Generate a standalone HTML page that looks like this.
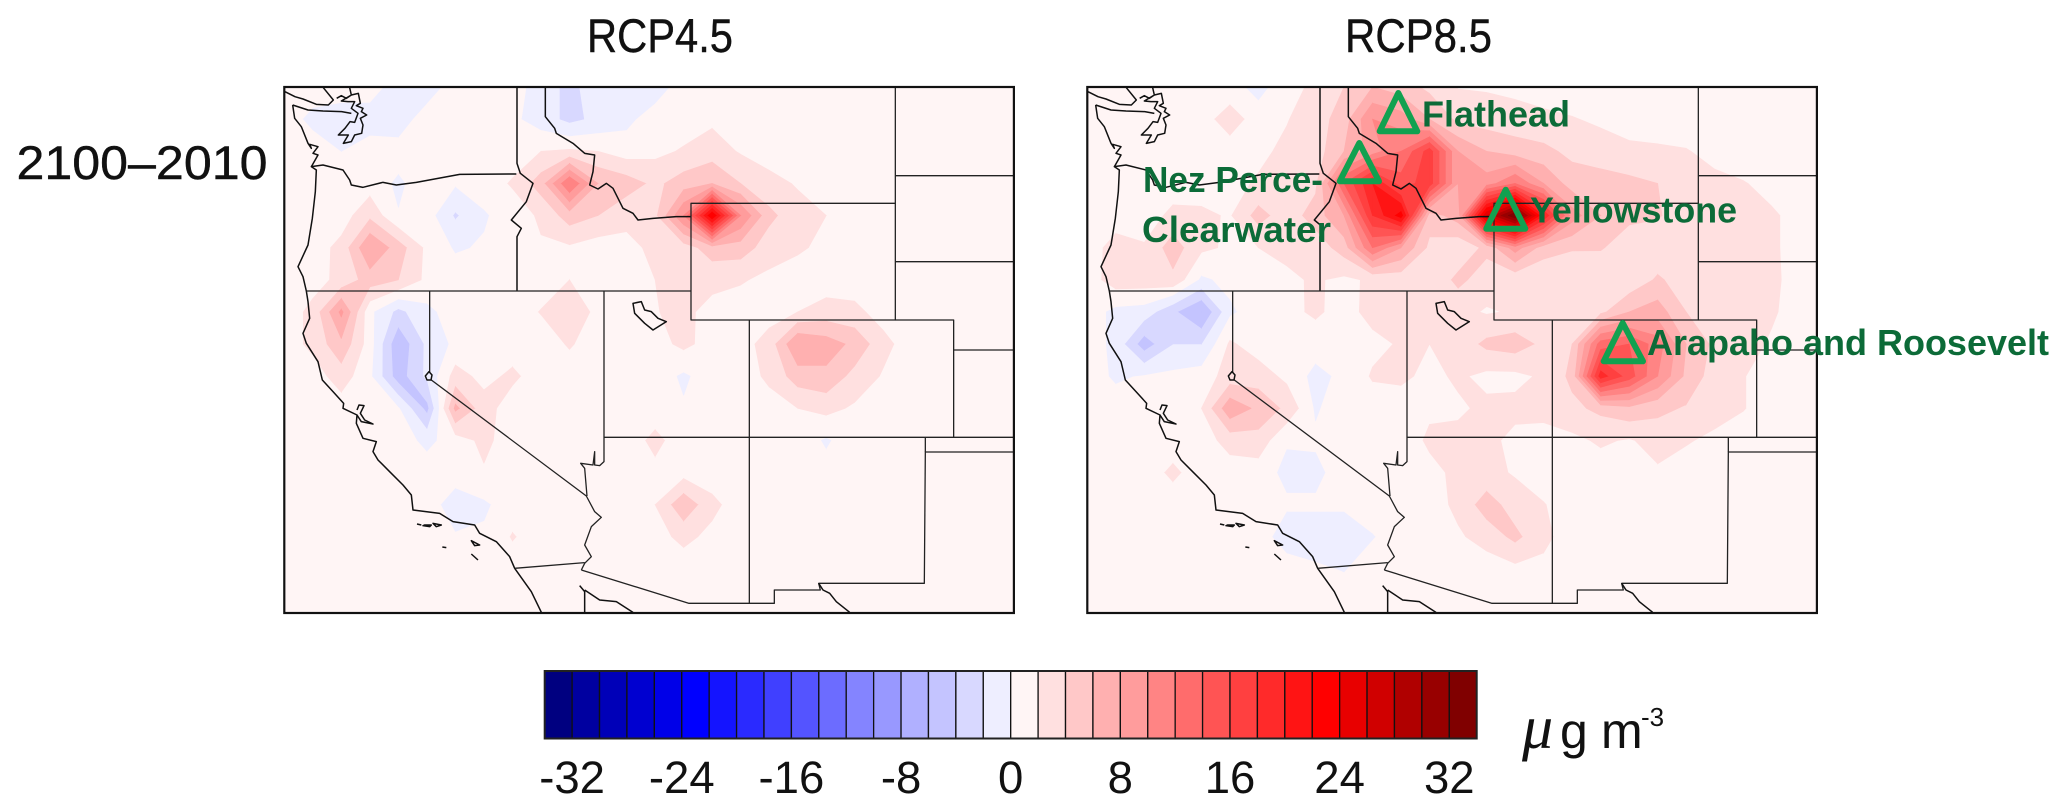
<!DOCTYPE html>
<html lang="en">
<head>
<meta charset="utf-8">
<title>RCP4.5 and RCP8.5 concentration change maps</title>
<style>
  html, body { margin: 0; padding: 0; background: #fff; }
  body { width: 2067px; height: 812px; overflow: hidden; }
  svg { display: block; }
  text { font-family: "Liberation Sans", sans-serif; }
  .geo path { fill: none; stroke: #111; stroke-width: 1.5; vector-effect: non-scaling-stroke; stroke-linejoin: round; }
  .geo path.state { stroke-width: 1.3; stroke: #222; }
  .site-label { font-weight: bold; font-size: 36px; fill: #0c6b38; }
  .site-mark { fill: none; stroke: #12a150; stroke-width: 6; stroke-linejoin: round; }
  .heading { font-size: 47px; fill: #111; stroke: #111; stroke-width: 0.4; }
</style>
</head>
<body>
<svg id="chart" width="2067" height="812" viewBox="0 0 2067 812" xmlns="http://www.w3.org/2000/svg">
  <defs>
    <clipPath id="clip-left"><rect x="284.3" y="87" width="729.6" height="526"/></clipPath>
    <clipPath id="clip-right"><rect x="1087.3" y="87" width="729.6" height="526"/></clipPath>
    <g id="geo-lines" class="geo">
      <path d="M6 20L36 35L60 42L100 58L136 60L151 45L121 8"/>
      <path d="M29 60L75 75L120 78L176 80L205 85"/>
      <path d="M161 40L175 32L190 40L205 30L200 8M205 30L226 25L232 55L220 62L240 70L235 80L251 90L232 100L240 120L236 145L215 150L205 170L181 175L196 150L166 150L186 130L201 110L215 112L225 85L205 70L215 50L195 50L175 48Z"/>
      <path d="M29 60L35 100L55 125L75 175L85 190L80 178L105 185L90 205L105 210L88 240L85 245L100 255L97 320L88 400L75 480L45 545L60 575L70 618L75 650L80 700L60 745L70 775L105 830L118 885L150 920L182 955L180 970L222 990L220 1015L240 1060L280 1070L270 1100L285 1125L320 1160L360 1200L385 1230L390 1275L470 1285L510 1310L575 1320L590 1345L640 1370L680 1415L695 1450L745 1520L775 1582"/>
      <path d="M222 975L228 960L243 962L232 985L245 1005L270 1017L235 1010L222 990"/>
      <path d="M85 245L120 240L180 255L200 285L205 300L240 307L300 292L340 300L400 292L530 268L700 267"/>
      <path d="M702 8L702 235L712 265L750 295L730 350L685 405L715 430L702 455L702 618"/>
      <path class="state" d="M70 618L1224 618"/>
      <path class="state" d="M440 618L440 862M445 885L910 1233L935 1280L955 1297L925 1325L905 1380L925 1415L905 1435L895 1455"/>
      <path d="M438 860L447 870L444 885L432 885L427 873Z"/>
      <path class="state" d="M695 1450L905 1433"/>
      <path class="state" d="M963 618L963 1130L950 1142L935 1140L935 1100L930 1140L893 1135L905 1150L912 1233"/>
      <path class="state" d="M895 1455L1218 1555L1474 1555L1474 1515L1612 1515L1607 1495L1924 1495L1927 1101L2192 1101"/>
      <path d="M787 8L787 95L815 130L820 145L870 175L905 205L935 210L930 260L920 300L945 312L970 295L990 310L1020 370L1050 385L1065 405L1110 400L1180 395L1224 395"/>
      <path class="state" d="M1224 355L1837 355L1837 705L1224 705Z"/>
      <path class="state" d="M1399 705L1399 1555M963 1057L2192 1057M1837 705L2012 705L2012 1057"/>
      <path class="state" d="M1837 8L1837 355M1837 272L2192 272M1837 530L2192 530M2012 795L2192 795M1927 1057L1927 1101"/>
      <path d="M1050 655L1075 650L1085 675L1105 680L1125 700L1150 710L1110 735L1085 715L1055 685Z"/>
      <path d="M890 1502L905 1520L905 1582M905 1515L950 1545L1000 1550L1050 1582M1607 1495L1620 1515L1640 1525L1660 1550L1700 1582"/>
      <path d="M402 1317L415 1320M420 1322L440 1325L445 1320L425 1320ZM450 1315L475 1320L460 1325ZM478 1386L490 1388M565 1367L590 1380L575 1382ZM565 1407L585 1425"/>
    </g>
  </defs>

  <rect x="0" y="0" width="2067" height="812" fill="#ffffff"/>

  <text class="heading" x="587" y="52.2" textLength="146" lengthAdjust="spacingAndGlyphs">RCP4.5</text>
  <text class="heading" x="1345" y="52.2" textLength="147" lengthAdjust="spacingAndGlyphs">RCP8.5</text>
  <text class="heading" x="16.5" y="179" textLength="251" lengthAdjust="spacingAndGlyphs">2100–2010</text>

  <g>
    <rect x="284.3" y="87" width="729.6" height="526" fill="#fff5f5"/>
    <g id="bands-left" clip-path="url(#clip-left)"></g>
    <g clip-path="url(#clip-left)">
      <g transform="translate(283,85) scale(0.33333)"><use href="#geo-lines"/></g>
    </g>
    <rect x="284.3" y="87" width="729.6" height="526" fill="none" stroke="#111" stroke-width="2.2"/>
  </g>

  <g>
    <rect x="1087.3" y="87" width="729.6" height="526" fill="#fff5f5"/>
    <g id="bands-right" clip-path="url(#clip-right)"></g>
    <g clip-path="url(#clip-right)">
      <g transform="translate(1086,85) scale(0.33333)"><use href="#geo-lines"/></g>
    </g>
    <rect x="1087.3" y="87" width="729.6" height="526" fill="none" stroke="#111" stroke-width="2.2"/>
  </g>

  <g>
    <path class="site-mark" d="M1398.3 93L1417.3 131.3L1379.7 131.3Z"/>
    <path class="site-mark" d="M1359.3 143L1379 181.3L1339.7 181.3Z"/>
    <path class="site-mark" d="M1505.7 189.7L1525.3 228.7L1486.3 228.7Z"/>
    <path class="site-mark" d="M1622.7 323L1643 361.3L1603.7 361.3Z"/>
    <text class="site-label" x="1422" y="126.7" textLength="148" lengthAdjust="spacingAndGlyphs">Flathead</text>
    <text class="site-label" x="1143" y="192" textLength="180" lengthAdjust="spacingAndGlyphs">Nez Perce-</text>
    <text class="site-label" x="1142" y="242" textLength="189" lengthAdjust="spacingAndGlyphs">Clearwater</text>
    <text class="site-label" x="1530" y="222.7" textLength="207" lengthAdjust="spacingAndGlyphs">Yellowstone</text>
    <text class="site-label" x="1647" y="355" textLength="402" lengthAdjust="spacingAndGlyphs">Arapaho and Roosevelt</text>
  </g>

  <g id="colorbar"></g>

  <g fill="#111">
    <text x="1522" y="748" font-size="62" font-style="italic" style="font-family:'Liberation Serif',serif">μ</text>
    <text x="1560" y="748" font-size="50">g</text>
    <text x="1601" y="748" font-size="50">m</text>
    <text x="1641" y="726" font-size="26">-3</text>
  </g>
</svg>

<script>
// Colour scale
const bandLevels = [2,4,6,8,10,12,14,16,18,20,22,24,26,28,30,32];
const positiveColors = ["#ffe0e0","#ffc8c8","#ffb0b0","#ff9c9c","#ff8484","#ff6c6c","#ff5454","#ff4040","#ff2a2a","#ff1414","#ff0000","#e80000","#d00000","#b00000","#980000","#800000"];
const negativeColors = ["#eeeeff","#d8d8ff","#c4c4ff","#b0b0ff","#9898ff","#8484ff","#6c6cff","#5454ff","#4040ff","#2a2aff","#1414ff","#0000ff","#0000e8","#0000d0","#0000b8","#0000a0","#000088"];
const colorbarColors = ["#000080","#0000a0","#0000b8","#0000d0","#0000e8","#0000ff","#1414ff","#2a2aff","#4040ff","#5454ff","#6c6cff","#8484ff","#9898ff","#b0b0ff","#c4c4ff","#d8d8ff","#eeeeff","#fff5f5","#ffe0e0","#ffc8c8","#ffb0b0","#ff9c9c","#ff8484","#ff6c6c","#ff5454","#ff4040","#ff2a2a","#ff1414","#ff0000","#e80000","#d00000","#b00000","#980000","#800000"];
const colorbarTicks = [-32,-24,-16,-8,0,8,16,24,32];

// Concentration change on a coarse model grid (rows north to south, µg m-3). Omitted trailing cells are background.
const rcp45Grid = [
  [1,1,1,1,-1,-1,1,1,1,-1,-2.5,-1,-1,-1],
  [1,-.5,-1,-1,-1,1,1,1,.5,-1,-2.5,-1.5,-.5,1,1,1.6],
  [1,1,0,1,.8,1,1,1,1,2,2.3,2,1,1.5,2.2,3,1.8],
  [1,1,1,1,-.3,1,.3,1,2.2,5,12,6,5,3.5,5,6,4,2.7,1.8],
  [1,1,1,3.5,.1,1,-2.2,-.2,1,2.3,5,4,2.5,3.5,10,24,10,4.5,2.8,2],
  [1,1,2.6,8,5,1.5,-.2,.2,1,1.8,1.7,1,1.5,2.4,3,5,5,3,2.3,1.5],
  [1,1.3,2.5,5,4,1.5,1,1,1,1,2,1,1,2,2.6,2.6,2.2,1.5],
  [1,2.5,8.5,.5,-2.5,-.5,1,1,1,2.1,3.5,1.4,1,1.9,2.5,1.3,1,1.2,2,2.8,2.5,1.2],
  [1,2.5,5.5,1,-5.5,-1.5,.5,1,1,1,2.2,1,1,1.2,2.5,1.2,1.2,2.8,8,7,5.5,2.6],
  [1,1,3,.5,-5,-1.5,2.8,1.4,2.4,1,1,1,1,1,-.3,1,1,2.4,5,5.5,3.3,1.8],
  [1,1,1,1,.3,-4.5,6.5,2.8,1,1,1,1,1,1,.2,1,1,1.2,2,2.6,1.7],
  [1,1,1,1,1,-.5,1,2.5,1,1,1,1,1,2.5,1,1,1,1,1,-.2],
  [1,1,1,1,1,1,1,1.8,1,1,1,1,1,1.5,1.2,1,1,1,1,.6],
  [1,1,1,1,1,1,-1,-.3,1,1,1,1,1,2,5.5,2.5],
  [1,1,1,1,1,1,.2,.3,2.15,1,1,1,1,1.3,2.5,1.5],
  [],
  [],
  []
];
const rcp85Grid = [
  [1,1,1,1,1,1,-.8,1.5,2.3,4,6,5,3.5,1.9,1.8,1.5],
  [1,1,1,1,1.3,2.8,1.2,1.9,3,5,10,9,6,3.5,3,2.8,2.5,2.1,1.7],
  [1,1,1,1,1,1.2,1.6,2.4,3,6,9,12,17,8,6,5,4.5,3.5,2.8,2.5,2.3,2.1,1.5],
  [1,1,1,1,1,1.5,2.2,2.6,3.5,14,20,15,17,8,9,12,8,5,5,4.5,4,3,2.4,2.1,1.5],
  [1,1,1,2.5,2.4,1.8,4.8,2.8,5,8,18,23,5,7,26,34,20,9,6,4.5,4.2,2.9,2.6,2.4,2.2,1.5],
  [1,2.8,2.2,5,2.4,1.7,2,2.4,2.7,5,12,8,3.5,2.5,4.5,9,5,4.2,4.2,2.8,2.5,2.4,2.4,2.4,2.2,1.5],
  [1,3,3,3.5,-.3,.5,1,1.7,2.2,1.6,2.3,2.7,2.4,4.5,3,2.4,2.2,2.2,2.1,2.5,4.3,3,2.4,2.4,2.3,1.4],
  [1,-.5,-.8,-3.5,-6,-.3,1,1.5,2.3,1.3,2.6,2.5,2.3,2.6,1.8,2.2,2.2,2.3,3.5,6,7,4,2.5,2.3,2.2,1.3],
  [1,-.5,-5,-2,-2,2.3,1,1,1,1,1.5,2.2,2,2.7,4.5,5,3.5,4,13,14,11,6,3.5,2.6,1.8,1.2],
  [1,-.3,.2,.5,1,2.8,3,1.5,-.6,.5,2.2,2.4,1.5,2.3,1.5,1.5,2.3,4.5,19,15,10,5.5,3,2.1],
  [1,1,1,1,2,7.5,5.5,3.5,-.2,1,1,1,1.7,1.7,2.4,2.5,2.8,3.5,4.5,5.5,4.5,3.8,2.9,2.1],
  [1,1,1,1,1,2.8,3.2,.2,.3,1,1,1,2.3,2.5,2.5,1.5,1,1.5,2.3,1.8,2.8,2.2,1.5],
  [1,1,1,2.4,1,1,1,-.5,-.5,1,1,1,1.5,2.4,2.6,1.8,1,1,1,1,1.7],
  [1,1,1,1,1,1,1,.3,.3,.3,1,1,1,2.5,5,3,2.1],
  [1,1,1,1,1,1,1,-1,-1,-1,-.1,1,1,1.7,2.8,4.5,2.5],
  [1,1,1,1,1,1,1,1,.3,-.1,1,1,1,1,1,1.5,1.5],
  [],
  []
];

const SVG_NS = "http://www.w3.org/2000/svg";
const PANEL_TOP = 87;
const COL_STEP = 28.52;
const ROW_STEP = 32.13;
const COLUMN_COUNT = 27;

function gridX(originX, col) { return originX + col * COL_STEP; }
function gridY(row) { return PANEL_TOP + row * ROW_STEP; }
function cellValue(grid, row, col) {
  const r = grid[row] || [];
  return r[col] === undefined ? 1 : r[col];
}

// Clip one grid cell to the region where sign*value >= level
function clipCell(corners, values, level, sign) {
  const out = [];
  for (let i = 0; i < 4; i++) {
    const j = (i + 1) % 4;
    const a = sign * values[i], b = sign * values[j];
    if (a >= level) out.push(corners[i]);
    if ((a >= level) !== (b >= level)) {
      const t = (level - a) / (b - a);
      out.push([corners[i][0] + t * (corners[j][0] - corners[i][0]),
                corners[i][1] + t * (corners[j][1] - corners[i][1])]);
    }
  }
  return out;
}

function bandPath(grid, originX, level, sign) {
  let d = "";
  for (let row = 0; row < grid.length - 1; row++) {
    for (let col = 0; col < COLUMN_COUNT - 1; col++) {
      const values = [cellValue(grid,row,col), cellValue(grid,row,col+1), cellValue(grid,row+1,col+1), cellValue(grid,row+1,col)];
      const corners = [[gridX(originX,col),gridY(row)], [gridX(originX,col+1),gridY(row)], [gridX(originX,col+1),gridY(row+1)], [gridX(originX,col),gridY(row+1)]];
      const poly = clipCell(corners, values, level, sign);
      if (poly.length > 2) {
        d += "M" + poly.map(function (p) { return p[0].toFixed(1) + " " + p[1].toFixed(1); }).join("L") + "Z";
      }
    }
  }
  return d;
}

function addBand(target, d, color) {
  if (!d) return;
  const path = document.createElementNS(SVG_NS, "path");
  path.setAttribute("d", d);
  path.setAttribute("fill", color);
  path.setAttribute("stroke", color);
  path.setAttribute("stroke-width", "0.6");
  
  
  target.appendChild(path);
}

function drawPanel(targetId, grid, originX) {
  const target = document.getElementById(targetId);
  negativeColors.forEach(function (color, k) {
    addBand(target, bandPath(grid, originX, k === 0 ? 0.0001 : bandLevels[k - 1], -1), color);
  });
  positiveColors.forEach(function (color, k) {
    addBand(target, bandPath(grid, originX, bandLevels[k], 1), color);
  });
}

drawPanel("bands-left", rcp45Grid, 284.3);
drawPanel("bands-right", rcp85Grid, 1087.3);

// Colour bar
const BAR_LEFT = 544.7, BAR_TOP = 671, BAR_HEIGHT = 67.5, BAR_WIDTH = 932;
const BOX_WIDTH = BAR_WIDTH / colorbarColors.length;
function barValueX(value) { return BAR_LEFT + BOX_WIDTH * (colorbarColors.length / 2 + value / 2); }

const bar = document.getElementById("colorbar");
colorbarColors.forEach(function (color, i) {
  const box = document.createElementNS(SVG_NS, "rect");
  box.setAttribute("x", (BAR_LEFT + i * BOX_WIDTH).toFixed(2));
  box.setAttribute("y", BAR_TOP);
  box.setAttribute("width", BOX_WIDTH.toFixed(2));
  box.setAttribute("height", BAR_HEIGHT);
  box.setAttribute("fill", color);
  box.setAttribute("stroke", "#111");
  box.setAttribute("stroke-width", "1.3");
  
  
  bar.appendChild(box);
});
const barFrame = document.createElementNS(SVG_NS, "rect");
barFrame.setAttribute("x", BAR_LEFT);
barFrame.setAttribute("y", BAR_TOP);
barFrame.setAttribute("width", BAR_WIDTH);
barFrame.setAttribute("height", BAR_HEIGHT);
barFrame.setAttribute("fill", "none");
barFrame.setAttribute("stroke", "#222");
barFrame.setAttribute("stroke-width", "2");


bar.appendChild(barFrame);

colorbarTicks.forEach(function (value) {
  const label = document.createElementNS(SVG_NS, "text");
  label.setAttribute("x", barValueX(value).toFixed(1));
  label.setAttribute("y", 793);
  label.setAttribute("font-size", "45.5");
  label.setAttribute("text-anchor", "middle");
  label.setAttribute("fill", "#111");
  
  
  label.textContent = String(value);
  bar.appendChild(label);
});
</script>
</body>
</html>
